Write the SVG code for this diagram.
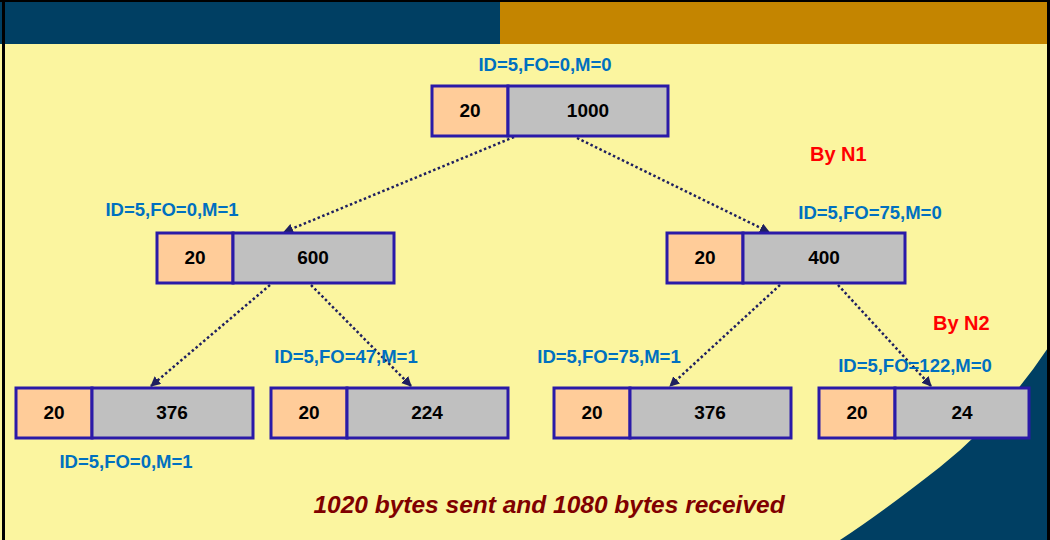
<svg xmlns="http://www.w3.org/2000/svg" width="1050" height="540" viewBox="0 0 1050 540">
  <defs>
    <style>
      .hdr { fill: #FFCC99; stroke: #2A1AA8; stroke-width: 3; }
      .data { fill: #C0C0C0; stroke: #2A1AA8; stroke-width: 3; }
      .num { font-family: "Liberation Sans", Arial, sans-serif; font-weight: bold; font-size: 19px; fill: #000; text-anchor: middle; }
      .lbl { font-family: "Liberation Sans", Arial, sans-serif; font-weight: bold; font-size: 18.5px; fill: #0070C0; text-anchor: middle; }
      .by { font-family: "Liberation Sans", Arial, sans-serif; font-weight: bold; font-size: 20px; fill: #FF0000; }
      .note { font-family: "Liberation Sans", Arial, sans-serif; font-weight: bold; font-style: italic; font-size: 24.5px; fill: #800000; text-anchor: middle; }
      .link { stroke: #1F2060; stroke-width: 2.5; stroke-dasharray: 2.5 2.5; fill: none; marker-end: url(#tip); }
    </style>
    <marker id="tip" viewBox="0 0 10 10" refX="9" refY="5" markerWidth="4" markerHeight="4" orient="auto" markerUnits="strokeWidth">
      <path d="M0,0 L10,5 L0,10 Z" fill="#1F2060"/>
    </marker>
  </defs>

  <!-- slide background -->
  <rect x="0" y="0" width="1050" height="540" fill="#FBF59F"/>
  <rect x="0" y="0" width="500" height="44" fill="#003F63"/>
  <rect x="500" y="0" width="550" height="44" fill="#C48500"/>
  <path d="M1050,345 Q1000,420 940,467 T840,540 L1050,540 Z" fill="#003F63"/>
  <rect x="0" y="0" width="1050" height="2" fill="#000"/>
  <rect x="2" y="0" width="3" height="540" fill="#000"/>
  <rect x="1047" y="0" width="3" height="540" fill="#000"/>

  <!-- fragmentation connectors -->
  <g id="connectors">
    <line class="link" x1="514" y1="137" x2="284" y2="232"/>
    <line class="link" x1="577" y1="138" x2="769" y2="232"/>
    <line class="link" x1="270" y1="285" x2="151" y2="386"/>
    <line class="link" x1="311" y1="285" x2="411" y2="386"/>
    <line class="link" x1="780" y1="285" x2="670" y2="386"/>
    <line class="link" x1="838" y1="285" x2="931" y2="386"/>
  </g>

  <!-- original datagram -->
  <g id="orig">
    <rect class="hdr" x="432" y="86" width="76" height="50"/>
    <rect class="data" x="508" y="86" width="160" height="50"/>
    <text class="num" x="470" y="117">20</text>
    <text class="num" x="588" y="117">1000</text>
    <text class="lbl" x="545" y="71">ID=5,FO=0,M=0</text>
  </g>

  <g id="by-n1">
    <text class="by" x="810" y="161">By N1</text>
  </g>

  <g id="frag-600">
    <rect class="hdr" x="157" y="233" width="76" height="50"/>
    <rect class="data" x="233" y="233" width="161" height="50"/>
    <text class="num" x="195" y="264">20</text>
    <text class="num" x="313" y="264">600</text>
    <text class="lbl" x="172" y="216">ID=5,FO=0,M=1</text>
  </g>

  <g id="frag-400">
    <rect class="hdr" x="667" y="233" width="76" height="50"/>
    <rect class="data" x="743" y="233" width="162" height="50"/>
    <text class="num" x="705" y="264">20</text>
    <text class="num" x="824" y="264">400</text>
    <text class="lbl" x="870" y="219">ID=5,FO=75,M=0</text>
  </g>

  <g id="by-n2">
    <text class="by" x="933" y="330">By N2</text>
  </g>

  <g id="frag-376a">
    <rect class="hdr" x="16" y="388" width="76" height="50"/>
    <rect class="data" x="92" y="388" width="161" height="50"/>
    <text class="num" x="54" y="419">20</text>
    <text class="num" x="172" y="419">376</text>
    <text class="lbl" x="126" y="468">ID=5,FO=0,M=1</text>
  </g>

  <g id="frag-224">
    <rect class="hdr" x="271" y="388" width="76" height="50"/>
    <rect class="data" x="347" y="388" width="161" height="50"/>
    <text class="num" x="309" y="419">20</text>
    <text class="num" x="427" y="419">224</text>
    <text class="lbl" x="346" y="363">ID=5,FO=47,M=1</text>
  </g>

  <g id="frag-376b">
    <rect class="hdr" x="554" y="388" width="76" height="50"/>
    <rect class="data" x="630" y="388" width="161" height="50"/>
    <text class="num" x="592" y="419">20</text>
    <text class="num" x="710" y="419">376</text>
    <text class="lbl" x="609" y="363">ID=5,FO=75,M=1</text>
  </g>

  <g id="frag-24">
    <rect class="hdr" x="819" y="388" width="76" height="50"/>
    <rect class="data" x="895" y="388" width="134" height="50"/>
    <text class="num" x="857" y="419">20</text>
    <text class="num" x="962" y="419">24</text>
    <text class="lbl" x="915" y="372">ID=5,FO=122,M=0</text>
  </g>

  <g id="summary">
    <text class="note" x="549" y="513">1020 bytes sent and 1080 bytes received</text>
  </g>
</svg>
